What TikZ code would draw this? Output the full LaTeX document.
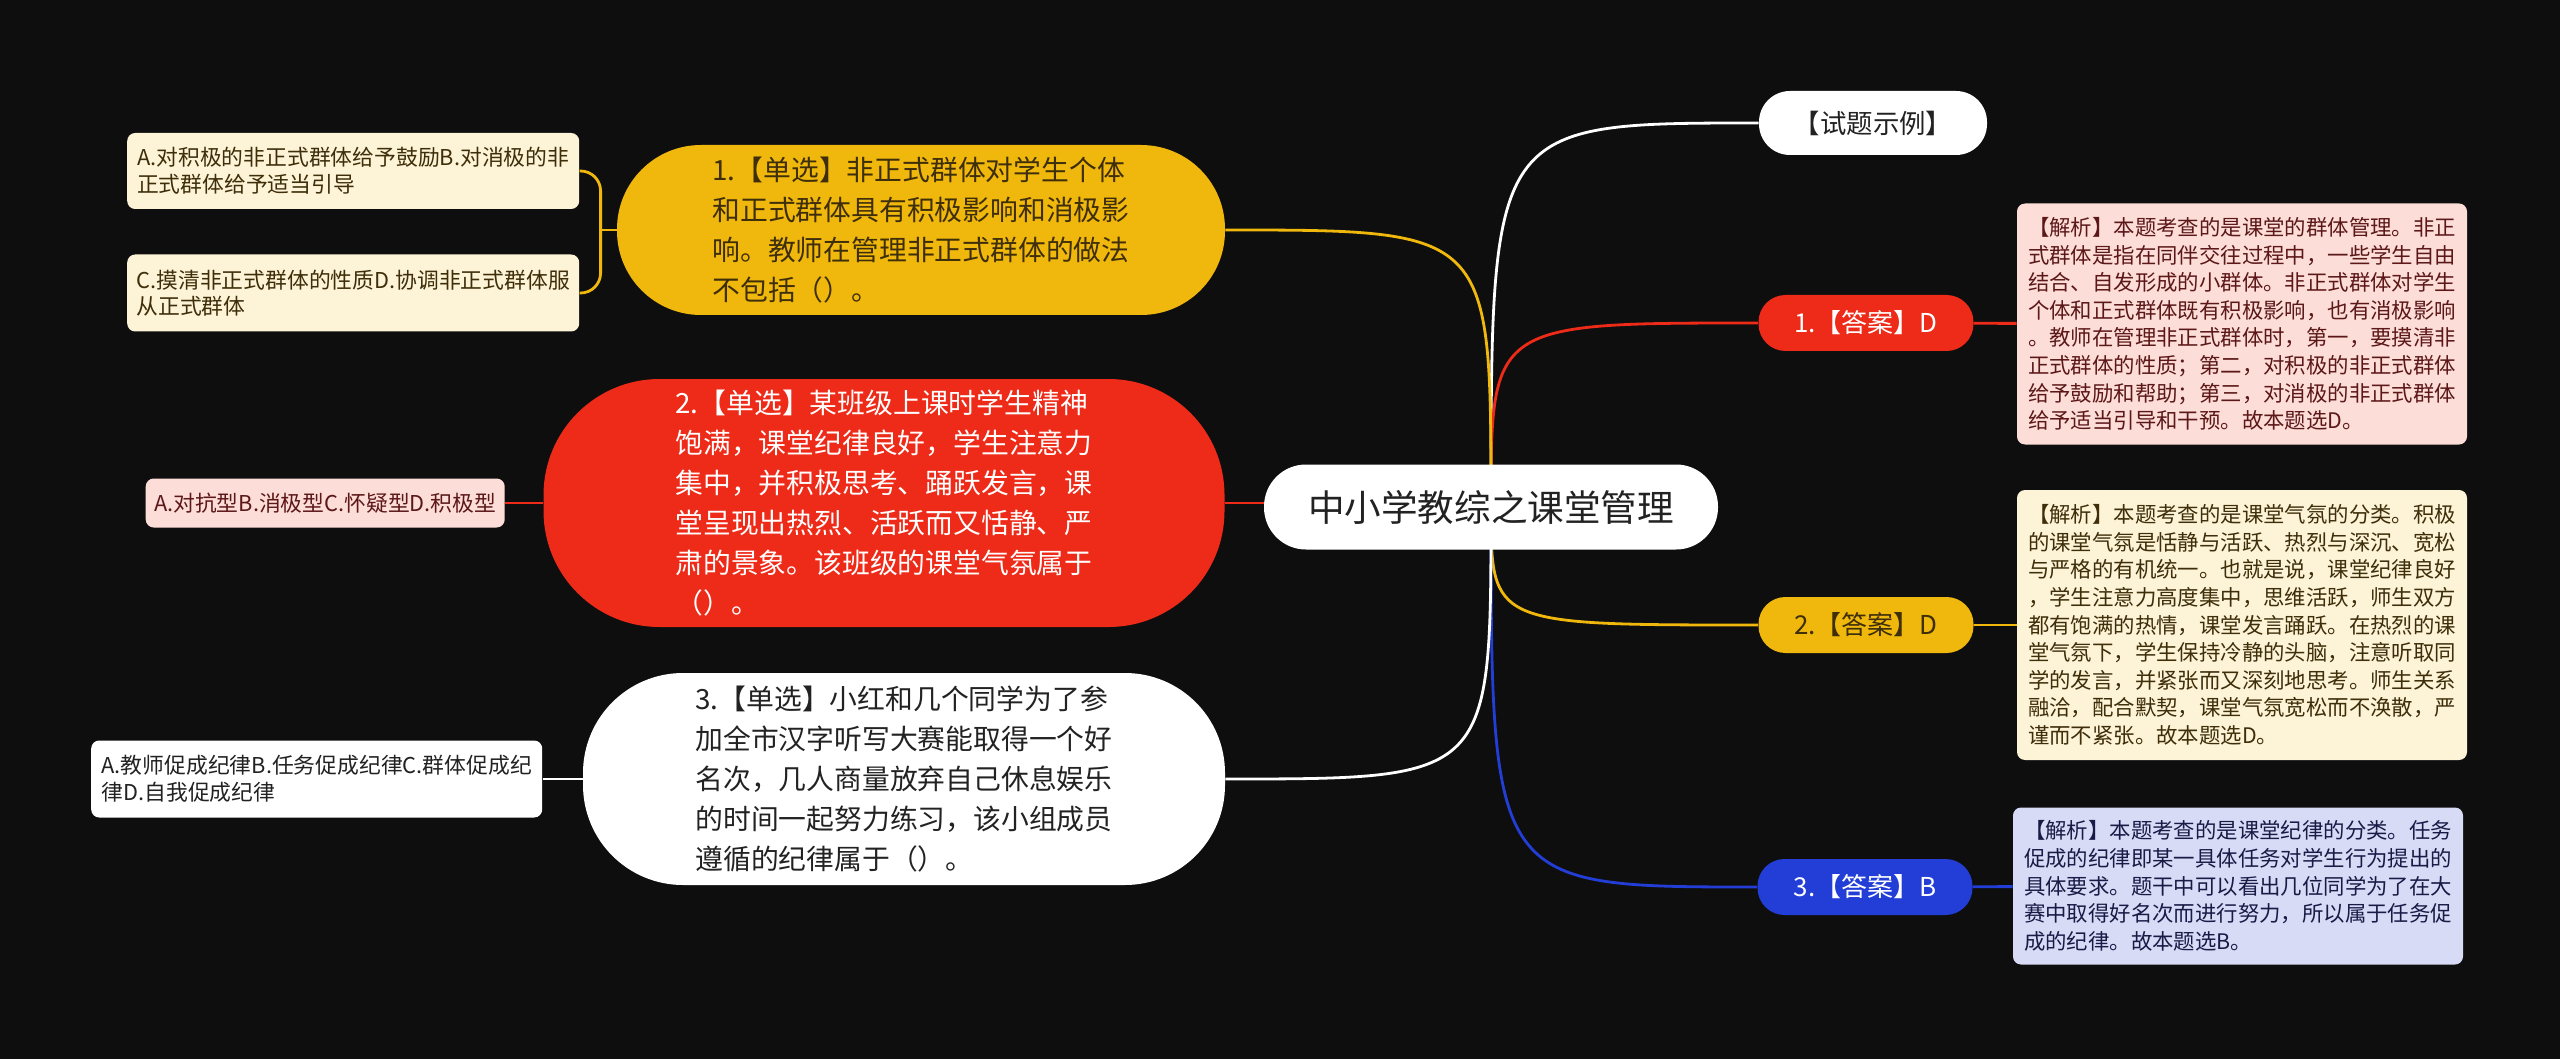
\documentclass[tikz,border=0pt]{standalone}
\usepackage{fontspec}
\setmainfont{Noto Sans CJK SC}
\usepackage{tikz}
\usetikzlibrary{positioning, backgrounds}
\definecolor{bgdark}{RGB}{14,14,14}
\definecolor{myyellow}{RGB}{240,184,13}
\definecolor{myred}{RGB}{238,42,24}
\definecolor{myblue}{RGB}{35,62,214}
\definecolor{mycream}{RGB}{253,243,214}
\definecolor{mypink}{RGB}{252,221,216}
\definecolor{mylav}{RGB}{216,219,246}
\definecolor{darktext}{RGB}{34,34,34}
\definecolor{browntext}{RGB}{62,46,10}
\definecolor{redtext}{RGB}{92,24,24}
\definecolor{navytext}{RGB}{26,26,70}
\tikzstyle{topic} = [rectangle, rounded corners=21pt, fill=white, text=darktext, minimum width=227pt, minimum height=42.5pt, font=\fontsize{18.3}{22}\selectfont]
\tikzstyle{question} = [rectangle, align=left, font=\fontsize{13.9}{20}\selectfont]
\tikzstyle{answer} = [rectangle, rounded corners=13.5pt, minimum width=107.5pt, minimum height=28pt, font=\fontsize{13}{16}\selectfont]
\tikzstyle{option} = [rectangle, rounded corners=4pt, align=left, font=\fontsize{10.9}{13.3}\selectfont]
\tikzstyle{note} = [rectangle, rounded corners=4pt, align=left, minimum width=225pt, font=\fontsize{10.7}{13.8}\selectfont]
\tikzstyle{link} = [line width=1.4pt]

\begin{document}
\begin{tikzpicture}[x=0.5pt, y=-0.5pt]
    \useasboundingbox (0,0) rectangle (2560,1059);

    \node (topic) [topic] at (1491,507) {中小学教综之课堂管理};

    % right branch
    \node (demo) [answer, fill=white, text=darktext, minimum width=114pt, minimum height=32pt, rounded corners=15.5pt, font=\fontsize{13.2}{16}\selectfont] at (1873,123) {【试题示例】};
    \node (ans1) [answer, fill=myred, text=white] at (1866,323) {1.【答案】D};
    \node (ans2) [answer, fill=myyellow, text=browntext] at (1866,625) {2.【答案】D};
    \node (ans3) [answer, fill=myblue, text=white] at (1865,887) {3.【答案】B};
    \node (note1) [note, fill=mypink, text=redtext, minimum height=120.5pt] at (2242,324) {【解析】本题考查的是课堂的群体管理。非正\\式群体是指在同伴交往过程中，一些学生自由\\结合、自发形成的小群体。非正式群体对学生\\个体和正式群体既有积极影响，也有消极影响\\。教师在管理非正式群体时，第一，要摸清非\\正式群体的性质；第二，对积极的非正式群体\\给予鼓励和帮助；第三，对消极的非正式群体\\给予适当引导和干预。故本题选D。};
    \node (note2) [note, fill=mycream, text=browntext, minimum height=135pt] at (2242,625) {【解析】本题考查的是课堂气氛的分类。积极\\的课堂气氛是恬静与活跃、热烈与深沉、宽松\\与严格的有机统一。也就是说，课堂纪律良好\\，学生注意力高度集中，思维活跃，师生双方\\都有饱满的热情，课堂发言踊跃。在热烈的课\\堂气氛下，学生保持冷静的头脑，注意听取同\\学的发言，并紧张而又深刻地思考。师生关系\\融洽，配合默契，课堂气氛宽松而不涣散，严\\谨而不紧张。故本题选D。};
    \node (note3) [note, fill=mylav, text=navytext, minimum height=78.5pt] at (2238,886) {【解析】本题考查的是课堂纪律的分类。任务\\促成的纪律即某一具体任务对学生行为提出的\\具体要求。题干中可以看出几位同学为了在大\\赛中取得好名次而进行努力，所以属于任务促\\成的纪律。故本题选B。};

    % left branch
    \node (q1) [question, fill=myyellow, text=browntext, minimum width=304pt, minimum height=85pt, rounded corners=42pt] at (921,230) {1.【单选】非正式群体对学生个体\\和正式群体具有积极影响和消极影\\响。教师在管理非正式群体的做法\\不包括（）。};
    \node (q2) [question, fill=myred, text=white, minimum width=340.5pt, minimum height=124pt, rounded corners=58pt] at (884,503) {2.【单选】某班级上课时学生精神\\饱满，课堂纪律良好，学生注意力\\集中，并积极思考、踊跃发言，课\\堂呈现出热烈、活跃而又恬静、严\\肃的景象。该班级的课堂气氛属于\\（）。};
    \node (q3) [question, fill=white, text=darktext, minimum width=321pt, minimum height=106pt, rounded corners=50pt] at (904,779) {3.【单选】小红和几个同学为了参\\加全市汉字听写大赛能取得一个好\\名次，几人商量放弃自己休息娱乐\\的时间一起努力练习，该小组成员\\遵循的纪律属于（）。};

    \node (opt1a) [option, fill=mycream, text=browntext, minimum width=226pt, minimum height=38pt, left=18.5pt of q1, yshift=29.5pt] {A.对积极的非正式群体给予鼓励B.对消极的非\\正式群体给予适当引导};
    \node (opt1b) [option, fill=mycream, text=browntext, minimum width=226pt, minimum height=38.5pt, left=18.5pt of q1, yshift=-31.5pt] {C.摸清非正式群体的性质D.协调非正式群体服\\从正式群体};
    \node (opt2) [option, fill=mypink, text=redtext, minimum width=179.5pt, minimum height=24.5pt, left=19pt of q2] {A.对抗型B.消极型C.怀疑型D.积极型};
    \node (opt3) [option, fill=white, text=darktext, minimum width=225.5pt, minimum height=38.5pt, left=20pt of q3] {A.教师促成纪律B.任务促成纪律C.群体促成纪\\律D.自我促成纪律};

    \begin{pgfonlayer}{background}
        \fill[bgdark] (0,0) rectangle (2560,1059);
        \draw[link, white] (topic.center) .. controls (topic.center |- demo.west) .. (demo.west);
        \draw[link, myred] (topic.center) .. controls (topic.center |- ans1.west) .. (ans1.west);
        \draw[link, myyellow] (topic.center) .. controls (topic.center |- ans2.west) .. (ans2.west);
        \draw[link, myblue] (topic.center) .. controls (topic.center |- ans3.west) .. (ans3.west);
        \draw[link, myred] (ans1) -- (note1);
        \draw[link, myyellow] (ans2) -- (note2);
        \draw[link, myblue] (ans3) -- (note3);
        \draw[link, myyellow] (topic.center) .. controls (topic.center |- q1.east) .. (q1.east);
        \draw[link, myred] (q2.east) -- (q2.east -| topic.center);
        \draw[link, white] (topic.center) .. controls (topic.center |- q3.east) .. (q3.east);
        \coordinate (q1join) at ([xshift=-8pt]q1.west);
        \draw[link, myyellow] (q1.west) -- (q1join);
        \draw[link, myyellow, rounded corners=10pt] (q1join) |- (opt1a.east);
        \draw[link, myyellow, rounded corners=10pt] (q1join) |- (opt1b.east);
        \draw[link, myred] (q2) -- (opt2);
        \draw[link, white] (q3) -- (opt3);
    \end{pgfonlayer}
\end{tikzpicture}
\end{document}
